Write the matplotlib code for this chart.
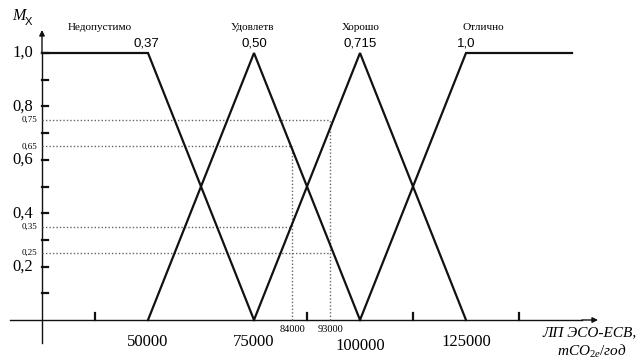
import matplotlib
matplotlib.use('Agg')
import matplotlib.pyplot as plt

# Membership functions (x in tCO2e/year, y = membership)
x_bad = [25000, 50000, 75000]
y_bad = [1.0, 1.0, 0.0]
x_sat = [50000, 75000, 100000]
y_sat = [0.0, 1.0, 0.0]
x_good = [75000, 100000, 125000]
y_good = [0.0, 1.0, 0.0]
x_exc = [100000, 125000, 150000]
y_exc = [0.0, 1.0, 1.0]

term_names = ['Недопустимо', 'Удовлетв', 'Хорошо', 'Отлично']
term_peaks = [50000, 75000, 100000, 125000]
term_values = ['0,37', '0,50', '0,715', '1,0']

# Evaluated points (dotted guides)
eval_x = [84000, 93000]
eval_hi = [0.65, 0.75]
eval_lo = [0.35, 0.25]
eval_labels = ['84000', '93000']

x_ticks_labels = [50000, 75000, 100000, 125000]
x_ticks_marks = [37500, 87500, 112500, 137500]
y_major = [0.2, 0.4, 0.6, 0.8, 1.0]
y_minor = [0.1, 0.3, 0.5, 0.7, 0.9]
y_extra = [0.75, 0.65, 0.35, 0.25]

W, H = 638, 362
fig = plt.figure(figsize=(W / 100, H / 100), dpi=100)
ax = fig.add_axes([0, 0, 1, 1])
ax.axis('off')

# pixel mapping: x=25000 at px 42, 25000 per 106 px; y=0 at px 320, y=1 at px 53
x0 = 25000
sx = 25000 / 106
sy = 1 / 267
ax.set_xlim(x0 - 42 * sx, x0 + (W - 42) * sx)
ax.set_ylim(-(H - 320) * sy, 320 * sy)

serif = 'Liberation Serif'
sans = 'Liberation Sans'
lc = '#111111'
dc = '#666666'

# axes with arrows
ax.plot([x0, x0], [-23 * sy, 1.0], color=lc, lw=1.0)
ax.annotate('', xy=(x0, 290 * sy), xytext=(x0, 1.0),
            arrowprops=dict(arrowstyle='-|>', color=lc, lw=1.0,
                            mutation_scale=8, shrinkA=0, shrinkB=0))
ax.plot([x0 - 32 * sx, x0 + 540 * sx], [0, 0], color=lc, lw=1.0)
ax.annotate('', xy=(x0 + 556 * sx, 0), xytext=(x0 + 540 * sx, 0),
            arrowprops=dict(arrowstyle='-|>', color=lc, lw=1.0,
                            mutation_scale=8, shrinkA=0, shrinkB=0))

# tick marks
for yv in y_major + y_minor:
    ax.plot([x0, x0 + 6 * sx], [yv, yv], color=lc, lw=1.6)
for xv in x_ticks_marks:
    ax.plot([xv, xv], [0, 7 * sy], color=lc, lw=1.6)

# dotted guides
for xe, hi, lo in zip(eval_x, eval_hi, eval_lo):
    ax.plot([xe, xe], [0, hi], color=dc, lw=1.0, ls=(0, (1, 1.5)))
    ax.plot([x0, xe], [hi, hi], color=dc, lw=1.0, ls=(0, (1, 1.5)))
    ax.plot([x0, xe], [lo, lo], color=dc, lw=1.0, ls=(0, (1, 1.5)))

# membership functions
for xs, ys in [(x_bad, y_bad), (x_sat, y_sat), (x_good, y_good), (x_exc, y_exc)]:
    ax.plot(xs, ys, color=lc, lw=1.6, solid_joinstyle='miter')

# y labels
for yv in y_major:
    ax.text(x0 - 9 * sx, yv, f'{yv:.1f}'.replace('.', ','), ha='right', va='center',
            fontsize=12, family=serif)
for yv in y_extra:
    ax.text(x0 - 5 * sx, yv, f'{yv:.2f}'.replace('.', ','), ha='right', va='center',
            fontsize=6.5, family=serif)

# x labels
for xv in x_ticks_labels:
    dy = 26 if xv == 100000 else 22
    ax.text(xv, -dy * sy, str(xv), ha='center', va='center', fontsize=12, family=serif)
for xe, lab in zip(eval_x, eval_labels):
    ax.text(xe, -9 * sy, lab, ha='center', va='center', fontsize=7.5, family=serif)

# term names and values
name_dx = [-48, -2, 1, 17]
for name, pk, val, dx in zip(term_names, term_peaks, term_values, name_dx):
    ax.text(pk + dx * sx, 1.0 + 26 * sy, name, ha='center', va='center',
            fontsize=8, family=serif)
    ax.text(pk - (2 if val == '0,37' else 0) * sx, 1.0 + 10 * sy, val,
            ha='center', va='center', fontsize=9.5, family=sans)

# axis titles
ax.text(x0 - 30 * sx, 1.0 + 37 * sy, 'M', ha='left', va='center', fontsize=11.5,
        family=serif, style='italic')
ax.text(x0 - 17 * sx, 1.0 + 31 * sy, 'X', ha='left', va='center', fontsize=8,
        family=sans)

plt.rcParams['mathtext.fontset'] = 'custom'
plt.rcParams['mathtext.it'] = 'Liberation Serif:italic'
plt.rcParams['mathtext.rm'] = 'Liberation Serif'
ax.text(x0 + 595 * sx, -13 * sy, 'ЛП ЭСО-ЕСВ,', ha='right', va='center',
        fontsize=11, family=serif, style='italic')
ax.text(x0 + 585 * sx, -31 * sy, r'$mCO_{2е}/год$', ha='right', va='center',
        fontsize=11)

fig.savefig('out.png', dpi=100)
